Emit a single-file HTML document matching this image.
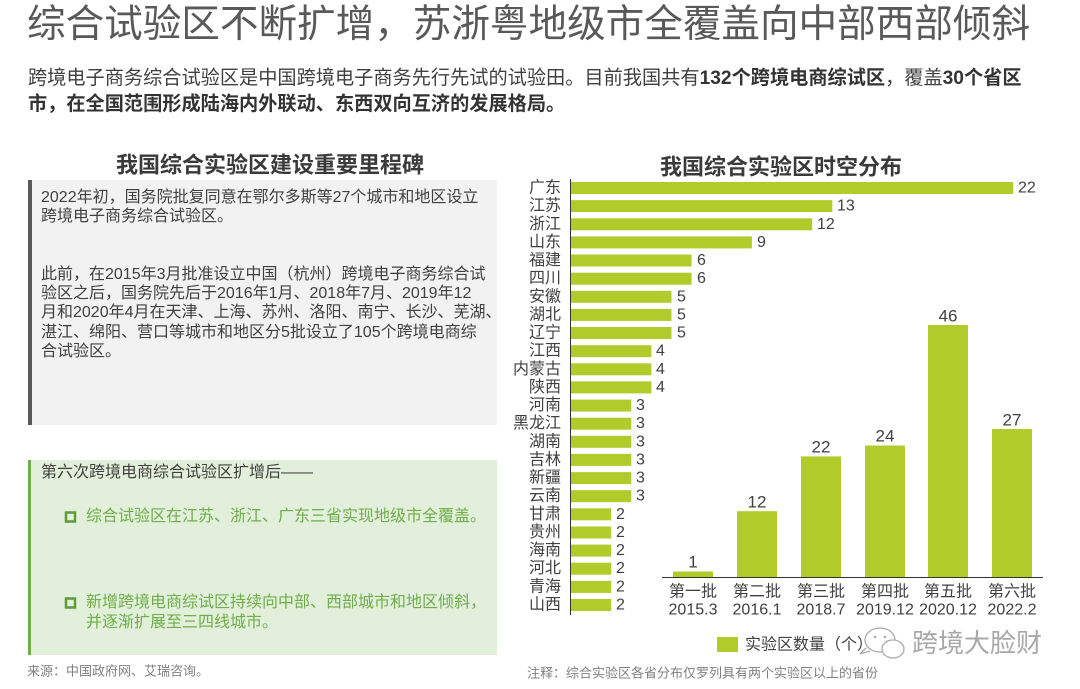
<!DOCTYPE html>
<html>
<head>
<meta charset="utf-8">
<style>
  html,body{margin:0;padding:0;background:#fff;}
  body{width:1080px;height:689px;position:relative;overflow:hidden;font-family:"Liberation Sans","Noto Sans CJK SC",sans-serif;}
  .a{position:absolute;white-space:nowrap;}
  svg{position:absolute;left:0;top:0;}
  svg text{font-family:"Liberation Sans","Noto Sans CJK SC",sans-serif;}
</style>
</head>
<body>
<svg width="1080" height="689" viewBox="0 0 1080 689">
  <!-- left boxes -->
  <rect x="28" y="180" width="469" height="245" fill="#f2f2f2"/>
  <rect x="28" y="180" width="4" height="245" fill="#595959"/>
  <rect x="28" y="460" width="469" height="195" fill="#e2efda"/>
  <rect x="28" y="460" width="3" height="195" fill="#70ad47"/>
  <!-- bullet squares -->
  <rect x="66" y="512.5" width="9" height="9" fill="none" stroke="#5f9a3c" stroke-width="2.5"/>
  <rect x="66" y="598.5" width="9" height="9" fill="none" stroke="#5f9a3c" stroke-width="2.5"/>

  <!-- headings -->
  <text x="270" y="165" text-anchor="middle" dominant-baseline="central" font-size="22" font-weight="bold" fill="#3a3a3a">我国综合实验区建设重要里程碑</text>
  <text x="781" y="167" text-anchor="middle" dominant-baseline="central" font-size="22" font-weight="bold" fill="#3a3a3a">我国综合实验区时空分布</text>

  <!-- horizontal bar chart -->
  <line x1="570.5" y1="179" x2="570.5" y2="615" stroke="#333" stroke-width="1"/>
  <g fill="#b0cb2a">
    <rect x="571" y="182.0" width="442.2" height="12"/>
    <rect x="571" y="200.1" width="261.3" height="12"/>
    <rect x="571" y="218.3" width="241.2" height="12"/>
    <rect x="571" y="236.4" width="180.9" height="12"/>
    <rect x="571" y="254.5" width="120.6" height="12"/>
    <rect x="571" y="272.7" width="120.6" height="12"/>
    <rect x="571" y="290.8" width="100.5" height="12"/>
    <rect x="571" y="308.9" width="100.5" height="12"/>
    <rect x="571" y="327.0" width="100.5" height="12"/>
    <rect x="571" y="345.2" width="80.4" height="12"/>
    <rect x="571" y="363.3" width="80.4" height="12"/>
    <rect x="571" y="381.4" width="80.4" height="12"/>
    <rect x="571" y="399.6" width="60.3" height="12"/>
    <rect x="571" y="417.7" width="60.3" height="12"/>
    <rect x="571" y="435.8" width="60.3" height="12"/>
    <rect x="571" y="453.9" width="60.3" height="12"/>
    <rect x="571" y="472.1" width="60.3" height="12"/>
    <rect x="571" y="490.2" width="60.3" height="12"/>
    <rect x="571" y="508.3" width="40.2" height="12"/>
    <rect x="571" y="526.5" width="40.2" height="12"/>
    <rect x="571" y="544.6" width="40.2" height="12"/>
    <rect x="571" y="562.7" width="40.2" height="12"/>
    <rect x="571" y="580.9" width="40.2" height="12"/>
    <rect x="571" y="599.0" width="40.2" height="12"/>
  </g>
  <g font-size="16" fill="#404040" text-anchor="end" dominant-baseline="central">
    <text x="561" y="188.0">广东</text>
    <text x="561" y="206.1">江苏</text>
    <text x="561" y="224.3">浙江</text>
    <text x="561" y="242.4">山东</text>
    <text x="561" y="260.5">福建</text>
    <text x="561" y="278.7">四川</text>
    <text x="561" y="296.8">安徽</text>
    <text x="561" y="314.9">湖北</text>
    <text x="561" y="333.0">辽宁</text>
    <text x="561" y="351.2">江西</text>
    <text x="561" y="369.3">内蒙古</text>
    <text x="561" y="387.4">陕西</text>
    <text x="561" y="405.6">河南</text>
    <text x="561" y="423.7">黑龙江</text>
    <text x="561" y="441.8">湖南</text>
    <text x="561" y="459.9">吉林</text>
    <text x="561" y="478.1">新疆</text>
    <text x="561" y="496.2">云南</text>
    <text x="561" y="514.3">甘肃</text>
    <text x="561" y="532.5">贵州</text>
    <text x="561" y="550.6">海南</text>
    <text x="561" y="568.7">河北</text>
    <text x="561" y="586.9">青海</text>
    <text x="561" y="605.0">山西</text>
  </g>
  <g font-size="16" fill="#404040" dominant-baseline="central">
    <text x="1018" y="188.0">22</text>
    <text x="837" y="206.1">13</text>
    <text x="817" y="224.3">12</text>
    <text x="757" y="242.4">9</text>
    <text x="697" y="260.5">6</text>
    <text x="697" y="278.7">6</text>
    <text x="677" y="296.8">5</text>
    <text x="677" y="314.9">5</text>
    <text x="677" y="333.0">5</text>
    <text x="656" y="351.2">4</text>
    <text x="656" y="369.3">4</text>
    <text x="656" y="387.4">4</text>
    <text x="636" y="405.6">3</text>
    <text x="636" y="423.7">3</text>
    <text x="636" y="441.8">3</text>
    <text x="636" y="459.9">3</text>
    <text x="636" y="478.1">3</text>
    <text x="636" y="496.2">3</text>
    <text x="616" y="514.3">2</text>
    <text x="616" y="532.5">2</text>
    <text x="616" y="550.6">2</text>
    <text x="616" y="568.7">2</text>
    <text x="616" y="586.9">2</text>
    <text x="616" y="605.0">2</text>
  </g>

  <!-- column chart -->
  <g fill="#b0cb2a">
    <rect x="673" y="571.5" width="40" height="5.5"/>
    <rect x="737" y="511.2" width="40" height="65.8"/>
    <rect x="801" y="456.4" width="40" height="120.6"/>
    <rect x="865" y="445.5" width="40" height="131.5"/>
    <rect x="928" y="325.0" width="40" height="252.0"/>
    <rect x="992" y="429.0" width="40" height="148.0"/>
  </g>
  <line x1="662" y1="577.5" x2="1043" y2="577.5" stroke="#333" stroke-width="1"/>
  <g font-size="17" fill="#404040" text-anchor="middle" dominant-baseline="central">
    <text x="693" y="562">1</text>
    <text x="757" y="502">12</text>
    <text x="821" y="447">22</text>
    <text x="885" y="436">24</text>
    <text x="948" y="316">46</text>
    <text x="1012" y="420">27</text>
  </g>
  <g font-size="16" fill="#404040" text-anchor="middle" dominant-baseline="central">
    <text x="693" y="592">第一批</text>
    <text x="757" y="592">第二批</text>
    <text x="821" y="592">第三批</text>
    <text x="885" y="592">第四批</text>
    <text x="948" y="592">第五批</text>
    <text x="1012" y="592">第六批</text>
    <text x="693" y="610">2015.3</text>
    <text x="757" y="610">2016.1</text>
    <text x="821" y="610">2018.7</text>
    <text x="885" y="610">2019.12</text>
    <text x="948" y="610">2020.12</text>
    <text x="1012" y="610">2022.2</text>
  </g>

  <!-- legend -->
  <rect x="717" y="637" width="21" height="15" fill="#b0cb2a"/>
  <text x="745" y="645" font-size="16" fill="#404040" dominant-baseline="central">实验区数量（个）</text>

  <!-- watermark -->
  <g fill="none" stroke="#aaa" stroke-width="1.3">
    <ellipse cx="880" cy="640" rx="15" ry="12"/>
    <ellipse cx="893" cy="649" rx="11" ry="9" fill="#fff"/>
    <path d="M866 648 L860 654 L870 651"/>
  </g>
  <circle cx="875" cy="637" r="1.3" fill="#aaa"/>
  <circle cx="885" cy="637" r="1.3" fill="#aaa"/>
  <text x="912" y="643" font-size="26" fill="#a8a8a8" dominant-baseline="central">跨境大脸财</text>

  <!-- notes -->
  <text x="27" y="671" font-size="13" fill="#808080" dominant-baseline="central">来源：中国政府网、艾瑞咨询。</text>
  <text x="527" y="673" font-size="13" fill="#808080" dominant-baseline="central">注释：综合实验区各省分布仅罗列具有两个实验区以上的省份</text>
</svg>

<!-- Title -->
<div class="a" style="left:27px;top:6px;font-size:38.6px;line-height:38px;color:#595959;">综合试验区不断扩增，苏浙粤地级市全覆盖向中部西部倾斜</div>

<!-- Subtitle -->
<div class="a" style="left:28px;top:66px;font-size:19.2px;line-height:26px;color:#404040;">跨境电子商务综合试验区是中国跨境电子商务先行先试的试验田。目前我国共有<b style="color:#333">132个跨境电商综试区</b>，覆盖<b style="color:#333">30个省区</b></div>
<div class="a" style="left:28px;top:92px;font-size:19.2px;line-height:26px;color:#333;font-weight:bold;">市，在全国范围形成陆海内外联动、东西双向互济的发展格局。</div>

<!-- Gray box text -->
<div class="a" style="left:41px;top:188px;font-size:16px;line-height:19.2px;color:#404040;">2022年初，国务院批复同意在鄂尔多斯等27个城市和地区设立<br>跨境电子商务综合试验区。</div>
<div class="a" style="left:41px;top:265px;font-size:16px;line-height:19.2px;color:#404040;">此前，在2015年3月批准设立中国（杭州）跨境电子商务综合试<br>验区之后，国务院先后于2016年1月、2018年7月、2019年12<br>月和2020年4月在天津、上海、苏州、洛阳、南宁、长沙、芜湖、<br>湛江、绵阳、营口等城市和地区分5批设立了105个跨境电商综<br>合试验区。</div>

<!-- Green box text -->
<div class="a" style="left:41px;top:463px;font-size:16px;line-height:20px;color:#404040;">第六次跨境电商综合试验区扩增后——</div>
<div class="a" style="left:86px;top:507px;font-size:16px;line-height:20px;color:#6fae4b;">综合试验区在江苏、浙江、广东三省实现地级市全覆盖。</div>
<div class="a" style="left:86px;top:593px;font-size:16px;line-height:19.5px;color:#6fae4b;">新增跨境电商综试区持续向中部、西部城市和地区倾斜，<br>并逐渐扩展至三四线城市。</div>
</body>
</html>
